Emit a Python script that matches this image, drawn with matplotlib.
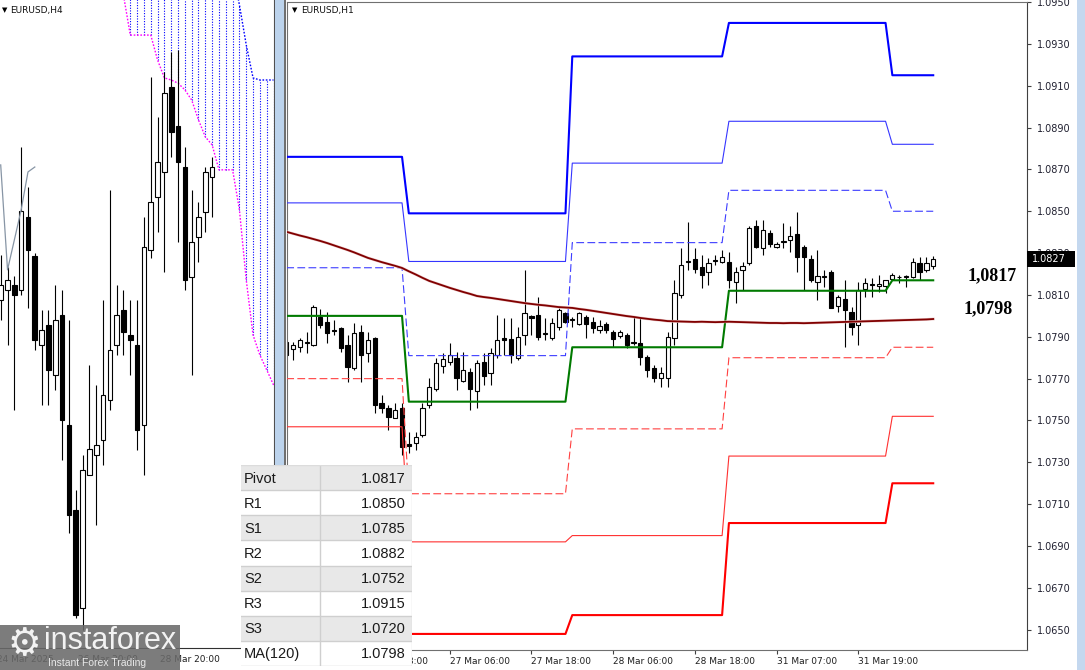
import numpy as np
import matplotlib
matplotlib.use("Agg")
import matplotlib.pyplot as plt
from matplotlib.patches import Rectangle
from matplotlib.transforms import blended_transform_factory

W, H = 1085, 670

# ---------------- EURUSD H1 (right chart), bar 0 = 26 Mar 18:00 ----------------
h1_first_bar = -12
h1_open = [1.07875, 1.07841, 1.07851, 1.07870, 1.07861, 1.07995, 1.07971, 1.07932,
           1.07942, 1.07861, 1.07750, 1.07923, 1.07822, 1.07894, 1.07584, 1.07560,
           1.07512, 1.07560, 1.07388, 1.07393, 1.07431, 1.07574, 1.07650, 1.07760,
           1.07779, 1.07798, 1.07688, 1.07732, 1.07641, 1.07779, 1.07727, 1.07813,
           1.07894, 1.07889, 1.07798, 1.07908, 1.07999, 1.08004, 1.07913, 1.07894,
           1.07947, 1.08014, 1.07980, 1.07961, 1.07995, 1.07971, 1.07932, 1.07961,
           1.07923, 1.07904, 1.07908, 1.07870, 1.07870, 1.07803, 1.07750, 1.07703,
           1.07703, 1.07894, 1.08100, 1.08258, 1.08272, 1.08234, 1.08210, 1.08263,
           1.08258, 1.08258, 1.08162, 1.08219, 1.08253, 1.08430, 1.08325, 1.08396,
           1.08329, 1.08353, 1.08363, 1.08392, 1.08329, 1.08272, 1.08162, 1.08186,
           1.08210, 1.08047, 1.08080, 1.08019, 1.07956, 1.08128, 1.08148, 1.08145,
           1.08143, 1.08176, 1.08184, 1.08186, 1.08186, 1.08253, 1.08219, 1.08239]
h1_high = [1.07884, 1.07875, 1.07894, 1.07923, 1.08052, 1.08033, 1.08019, 1.07980,
           1.07947, 1.07908, 1.07966, 1.07956, 1.07923, 1.07899, 1.07622, 1.07574,
           1.07584, 1.07584, 1.07445, 1.07445, 1.07584, 1.07703, 1.07798, 1.07822,
           1.07870, 1.07827, 1.07827, 1.07750, 1.07789, 1.07822, 1.07846, 1.08004,
           1.07990, 1.07990, 1.07947, 1.08219, 1.08004, 1.08090, 1.07990, 1.07990,
           1.08038, 1.08019, 1.07995, 1.08019, 1.08004, 1.07995, 1.07980, 1.07971,
           1.07932, 1.07932, 1.07918, 1.07995, 1.07995, 1.07813, 1.07765, 1.07755,
           1.07923, 1.08172, 1.08325, 1.08449, 1.08325, 1.08291, 1.08277, 1.08291,
           1.08315, 1.08306, 1.08234, 1.08258, 1.08430, 1.08458, 1.08458, 1.08411,
           1.08353, 1.08444, 1.08430, 1.08497, 1.08339, 1.08291, 1.08315, 1.08219,
           1.08219, 1.08100, 1.08172, 1.08042, 1.08162, 1.08181, 1.08181, 1.08196,
           1.08172, 1.08205, 1.08196, 1.08196, 1.08277, 1.08282, 1.08282, 1.08287]
h1_low = [1.07798, 1.07789, 1.07827, 1.07822, 1.07856, 1.07942, 1.07870, 1.07908,
          1.07827, 1.07684, 1.07741, 1.07684, 1.07779, 1.07536, 1.07536, 1.07455,
          1.07512, 1.07335, 1.07345, 1.07359, 1.07421, 1.07560, 1.07641, 1.07727,
          1.07765, 1.07646, 1.07684, 1.07550, 1.07560, 1.07669, 1.07669, 1.07798,
          1.07813, 1.07774, 1.07789, 1.07861, 1.07908, 1.07884, 1.07884, 1.07884,
          1.07932, 1.07966, 1.07947, 1.07956, 1.07894, 1.07918, 1.07918, 1.07918,
          1.07851, 1.07894, 1.07846, 1.07861, 1.07765, 1.07708, 1.07684, 1.07660,
          1.07660, 1.07861, 1.08085, 1.08219, 1.08205, 1.08133, 1.08148, 1.08243,
          1.08253, 1.08133, 1.08061, 1.08124, 1.08243, 1.08325, 1.08291, 1.08329,
          1.08325, 1.08325, 1.08306, 1.08210, 1.08124, 1.08162, 1.08076, 1.08138,
          1.08038, 1.08019, 1.07851, 1.07908, 1.07861, 1.08090, 1.08090, 1.08114,
          1.08109, 1.08172, 1.08157, 1.08138, 1.08181, 1.08172, 1.08210, 1.08224]
h1_close = [1.07813, 1.07861, 1.07884, 1.07875, 1.08042, 1.07956, 1.07918, 1.07928,
            1.07846, 1.07755, 1.07918, 1.07813, 1.07884, 1.07574, 1.07560, 1.07517,
            1.07550, 1.07374, 1.07380, 1.07421, 1.07560, 1.07660, 1.07774, 1.07793,
            1.07813, 1.07703, 1.07741, 1.07650, 1.07774, 1.07712, 1.07822, 1.07884,
            1.07884, 1.07813, 1.07899, 1.08014, 1.07990, 1.07899, 1.07918, 1.07966,
            1.08028, 1.07971, 1.07985, 1.08014, 1.07961, 1.07942, 1.07951, 1.07932,
            1.07889, 1.07923, 1.07861, 1.07875, 1.07803, 1.07741, 1.07703, 1.07727,
            1.07899, 1.08109, 1.08243, 1.08263, 1.08224, 1.08196, 1.08253, 1.08267,
            1.08282, 1.08172, 1.08210, 1.08239, 1.08420, 1.08329, 1.08411, 1.08344,
            1.08344, 1.08358, 1.08382, 1.08282, 1.08282, 1.08172, 1.08191, 1.08191,
            1.08038, 1.08090, 1.08028, 1.07947, 1.08124, 1.08157, 1.08152, 1.08150,
            1.08172, 1.08196, 1.08188, 1.08190, 1.08258, 1.08210, 1.08253, 1.08270]
ma120 = [1.08402, 1.08393, 1.08384, 1.08376, 1.08367, 1.08358, 1.08348, 1.08337,
         1.08326, 1.08315, 1.08303, 1.08290, 1.08277, 1.08267, 1.08257, 1.08248,
         1.08239, 1.08229, 1.08213, 1.08198, 1.08182, 1.08167, 1.08156, 1.08145,
         1.08134, 1.08124, 1.08114, 1.08105, 1.08095, 1.08090, 1.08086, 1.08081,
         1.08076, 1.08071, 1.08066, 1.08061, 1.08057, 1.08053, 1.08050, 1.08046,
         1.08042, 1.08040, 1.08038, 1.08033, 1.08029, 1.08024, 1.08019, 1.08014,
         1.08009, 1.08004, 1.07999, 1.07995, 1.07990, 1.07986, 1.07982, 1.07979,
         1.07975, 1.07974, 1.07973, 1.07972, 1.07971, 1.07972, 1.07971, 1.07970,
         1.07971, 1.07972, 1.07971, 1.07970, 1.07969, 1.07968, 1.07967, 1.07966,
         1.07966, 1.07965, 1.07966, 1.07966, 1.07965, 1.07966, 1.07967, 1.07968,
         1.07969, 1.07970, 1.07971, 1.07972, 1.07973, 1.07974, 1.07975, 1.07976,
         1.07977, 1.07978, 1.07979, 1.07980, 1.07981, 1.07982, 1.07983, 1.07985]

# daily pivot levels: 26 Mar, 27 Mar, 28 Mar, 31 Mar, 1 Apr
day_first_bar = [-12, 6, 30, 53, 77]
r3_lv = [1.0876, 1.0849, 1.0924, 1.0940, 1.0915]
r2_lv = [1.0854, 1.0826, 1.0873, 1.0893, 1.0882]
r1_lv = [1.0823, 1.0781, 1.0835, 1.0860, 1.0850]
pivot_lv = [1.0800, 1.0759, 1.0785, 1.0812, 1.0817]
s1_lv = [1.0770, 1.0715, 1.0746, 1.0780, 1.0785]
s2_lv = [1.0747, 1.0692, 1.0695, 1.0733, 1.0752]
s3_lv = [1.0724, 1.0648, 1.0657, 1.0701, 1.0720]

h1_tick_bars = [0, 12, 24, 36, 48, 60, 72]
h1_tick_labels = ['26 Mar 18:00', '27 Mar 06:00', '27 Mar 18:00', '28 Mar 06:00',
                  '28 Mar 18:00', '31 Mar 07:00', '31 Mar 19:00']

table_names = ['Pivot', 'R1', 'S1', 'R2', 'S2', 'R3', 'S3', 'MA(120)']
table_values = [1.0817, 1.0850, 1.0785, 1.0882, 1.0752, 1.0915, 1.0720, 1.0798]

# ---------------- EURUSD H4 (left chart), bar 23 = 28 Mar 20:00 ----------------
h4_open = [1.07795, 1.07823, 1.07838, 1.07823, 1.08032, 1.07920, 1.07667, 1.07724,
           1.07581, 1.07752, 1.07439, 1.07197, 1.06917, 1.07296, 1.07353, 1.07396,
           1.07510, 1.07667, 1.07767, 1.07695, 1.07667, 1.07439, 1.07938, 1.08089,
           1.08160, 1.08402, 1.08291, 1.08174, 1.07861, 1.07975, 1.08046, 1.08146]
h4_high = [1.07923, 1.07889, 1.07863, 1.08231, 1.08117, 1.07929, 1.07767, 1.07767,
           1.07838, 1.07823, 1.07738, 1.07254, 1.07353, 1.07610, 1.07553, 1.07795,
           1.08109, 1.07838, 1.07823, 1.07795, 1.07795, 1.08032, 1.08431, 1.08317,
           1.08445, 1.08502, 1.08508, 1.08231, 1.08109, 1.08074, 1.08174, 1.08203]
h4_low = [1.07738, 1.07667, 1.07482, 1.07809, 1.07772, 1.07652, 1.07496, 1.07496,
          1.07539, 1.07339, 1.07131, 1.06889, 1.06855, 1.07296, 1.07154, 1.07325,
          1.07482, 1.07638, 1.07638, 1.07581, 1.07368, 1.07296, 1.07915, 1.07989,
          1.07875, 1.08203, 1.07960, 1.07823, 1.07581, 1.07903, 1.07989, 1.08032]
h4_close = [1.07838, 1.07852, 1.07809, 1.08049, 1.07938, 1.07681, 1.07710, 1.07596,
            1.07738, 1.07453, 1.07182, 1.06897, 1.07311, 1.07370, 1.07382, 1.07524,
            1.07652, 1.07752, 1.07704, 1.07681, 1.07424, 1.07946, 1.08074, 1.08188,
            1.08385, 1.08274, 1.08188, 1.07852, 1.07960, 1.08032, 1.08160, 1.08174]
h4_tenkan = [1.08180, 1.07881, 1.07966, 1.08052, 1.08160, 1.08174]
cloud_first_bar = 18
span_a = [1.08664, 1.08550, 1.08550, 1.08550, 1.08550, 1.08479, 1.08428, 1.08422,
          1.08413, 1.08394, 1.08365, 1.08308, 1.08260, 1.08237, 1.08166, 1.08166,
          1.08166, 1.08052, 1.07852, 1.07695, 1.07638, 1.07596, 1.07553]
span_b = [1.08736, 1.08736, 1.08736, 1.08736, 1.08736, 1.08736, 1.08736, 1.08736,
          1.08736, 1.08736, 1.08736, 1.08736, 1.08736, 1.08736, 1.08736, 1.08736,
          1.08736, 1.08636, 1.08522, 1.08428, 1.08422, 1.08422, 1.08422]
h4_tick_bars = [-1, 11, 23]
h4_tick_labels = ['24 Mar 2025', '26 Mar 20:00', '28 Mar 20:00']


def px_axes(fig, x0, y0, x1, y1):
    return fig.add_axes([x0 / W, 1 - y1 / H, (x1 - x0) / W, (y1 - y0) / H])


def fig_rect(fig, x0, y0, x1, y1, color, **kw):
    fig.patches.append(Rectangle((x0 / W, 1 - y1 / H), (x1 - x0) / W, (y1 - y0) / H,
                                 transform=fig.transFigure, facecolor=color,
                                 edgecolor='none', **kw))


def candles(ax, xs, o, h, l, c, width, lw=0.8):
    o, h, l, c = map(np.asarray, (o, h, l, c))
    ax.vlines(xs, l, h, color='black', lw=lw, zorder=2)
    body = np.maximum(np.abs(c - o), 1e-5)
    ax.bar(xs, body, bottom=np.minimum(o, c), width=width,
           color=np.where(c >= o, 'white', 'black'), edgecolor='black',
           linewidth=lw, zorder=2.1)


fig = plt.figure(figsize=(W / 100, H / 100), dpi=100)
fig.patch.set_facecolor('white')

# ---------------- left H4 panel ----------------
axl = px_axes(fig, 0, 0, 274, 648)
k = np.arange(len(h4_open))
candles(axl, k, h4_open, h4_high, h4_low, h4_close, 0.68)
axl.plot(k[:len(h4_tenkan)], h4_tenkan, color='#8795a5', lw=0.9, zorder=3)
kc = np.arange(cloud_first_bar, cloud_first_bar + len(span_a))
axl.vlines(kc, span_a, span_b, colors='#0000ff', linestyles=(0, (1, 1.4)), lw=0.8, zorder=1.5)
axl.plot(kc, span_a, color='#ff00ff', ls=(0, (1.2, 1.2)), lw=1.0, zorder=1.6)
axl.plot(kc, span_b, color='#0000ff', ls=(0, (1.2, 1.2)), lw=1.0, zorder=1.6)
axl.set_xlim(-0.103, 40.07)
axl.set_ylim(1.068032, 1.0865)
axl.set_xticks([])
axl.set_yticks([])
for s in ['left', 'top']:
    axl.spines[s].set_visible(False)
axl.spines['right'].set_color('#505050')
axl.spines['bottom'].set_color('#303030')
axl.text(2 / 274, 1 - 10 / 648, '▼', transform=axl.transAxes, fontsize=5, va='center')
axl.text(10 / 274, 1 - 10 / 648, 'EURUSD,H4', transform=axl.transAxes, fontsize=6.5,
         va='center', color='#101010')
tl = blended_transform_factory(axl.transData, axl.transAxes)
for b, lab in zip(h4_tick_bars, h4_tick_labels):
    axl.text(b + 0.4, -12 / 648, lab, transform=tl, fontsize=6.5, va='center',
             ha='left', color='#202020', clip_on=False)

# ---------------- main H1 panel ----------------
ax = px_axes(fig, 287, 2, 1027, 650)
t = np.arange(h1_first_bar, h1_first_bar + len(h1_open))
candles(ax, t, h1_open, h1_high, h1_low, h1_close, 0.62)

counts = np.diff(day_first_bar + [t[-1] + 1])
levels = [(r3_lv, '#0000ff', 1.5, '-'),
          (r2_lv, '#3535ff', 0.8, '-'),
          (r1_lv, '#3c3cff', 0.8, (0, (7, 3))),
          (pivot_lv, '#007a00', 1.5, '-'),
          (s1_lv, '#ff4040', 0.8, (0, (7, 3))),
          (s2_lv, '#ff3030', 0.8, '-'),
          (s3_lv, '#ff0000', 1.5, '-')]
for lv, col, lw, ls in levels:
    ax.plot(t, np.repeat(lv, counts), color=col, lw=lw, ls=ls, zorder=3)
ax.plot(t, ma120, color='#ecc8c8', lw=2.0, zorder=3.3)
ax.plot(t, ma120, color='#800000', lw=1.3, zorder=3.4)

ax.set_xlim(-11.89, 96.77)
ax.set_ylim(1.064032, 1.0950)
ax.yaxis.tick_right()
ax.set_yticks(np.arange(1.0650, 1.09501, 0.002))
ax.yaxis.set_major_formatter(lambda v, p: f'{v:.4f}')
ax.tick_params(axis='y', direction='out', length=3, width=0.8, color='#404040',
               labelsize=7, labelcolor='#202030', pad=4)
ax.set_xticks(h1_tick_bars, h1_tick_labels)
ax.tick_params(axis='x', direction='out', length=3, width=0.8, color='#404040',
               labelsize=6.5, labelcolor='#202020', pad=2)
for lbl in ax.get_xticklabels():
    lbl.set_ha('left')
for s in ['left', 'top', 'bottom']:
    ax.spines[s].set_color('#707070')
ax.spines['right'].set_color('#404040')

ax.text(5 / 740, 1 - 8 / 648, '▼', transform=ax.transAxes, fontsize=5, va='center')
ax.text(14 / 740, 1 - 8 / 648, 'EURUSD,H1', transform=ax.transAxes, fontsize=6.5,
        va='center', color='#101010')

ax.text(91.6, table_values[0] + 0.0002, f'{table_values[0]:.4f}'.replace('.', ','),
        fontsize=13, fontweight='bold', family='Liberation Serif', ha='center',
        va='center', zorder=6)
ax.text(91.0, table_values[-1] + 0.00053, f'{table_values[-1]:.4f}'.replace('.', ','),
        fontsize=13, fontweight='bold', family='Liberation Serif', ha='center',
        va='center', zorder=6)

bt = blended_transform_factory(ax.transAxes, ax.transData)
last = h1_close[-1]
ax.add_patch(Rectangle((1.0, last - 0.00038), 48 / 740, 0.00076, transform=bt,
                       facecolor='black', edgecolor='none', clip_on=False, zorder=8))
ax.text(1.0 + 5 / 740, last, f'{last:.4f}', transform=bt, color='white', fontsize=7,
        va='center', ha='left', clip_on=False, zorder=9)

# ---------------- window chrome ----------------
fig_rect(fig, 275, 0, 285, 650, '#bcd3ec')
fig_rect(fig, 284, 0, 285.5, 650, '#707070')
fig_rect(fig, 1077, 0, 1085, 670, '#c4d8ef')

# ---------------- pivot table ----------------
axt = px_axes(fig, 241, 465, 412, 666)
axt.set_zorder(10)
axt.set_xlim(0, 171)
axt.set_ylim(len(table_names), 0)
axt.axis('off')
for i, (name, val) in enumerate(zip(table_names, table_values)):
    bg = '#e8e8e8' if i % 2 == 0 else 'white'
    axt.add_patch(Rectangle((0, i), 171, 1, facecolor=bg, edgecolor='none'))
    axt.axhline(i + 1, color='#cfcfcf', lw=1.0)
    axt.text(3, i + 0.54, name, fontsize=10.5, family='Liberation Sans', va='center',
             ha='left', color='#1a1a1a')
    axt.text(165, i + 0.54, f'{val:.4f}', fontsize=10.5, family='Liberation Sans',
             va='center', ha='right', color='#1a1a1a')
axt.axvline(79, color='#cfcfcf', lw=1.0)
axt.axvline(170.5, color='#dcdcdc', lw=1.0)
axt.axhline(0, color='#dcdcdc', lw=1.0)

# ---------------- watermark ----------------
fig_rect(fig, 0, 625, 180, 670, '#6a6a6a', alpha=0.88, zorder=20)
fig.text(24 / W, 1 - 645 / H, '⚙', color='#f2f2f2', fontsize=27, ha='center',
         va='center', zorder=21)
fig.text(44 / W, 1 - 641 / H, 'instaforex', color='#f2f2f2', fontsize=22,
         family='Liberation Sans', ha='left', va='center', zorder=21)
fig.text(48 / W, 1 - 663 / H, 'Instant Forex Trading', color='#e8e8e8', fontsize=7.5,
         family='Liberation Sans', ha='left', va='center', zorder=21)

fig.savefig('out.png', dpi=100, facecolor='white')
